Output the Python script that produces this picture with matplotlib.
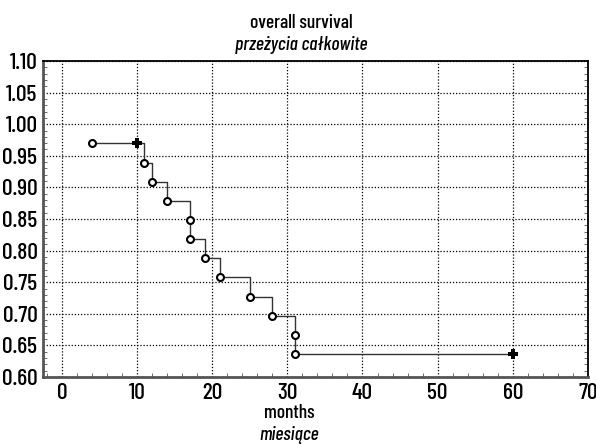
import matplotlib
matplotlib.use("Agg")
import matplotlib.pyplot as plt
from matplotlib.ticker import MultipleLocator

plt.rcParams['font.family'] = ['Barlow Condensed', 'DejaVu Sans']
plt.rcParams['font.weight'] = 'medium'

# event times (months) and survival after each event
months = [4, 11, 12, 14, 17, 17, 19, 21, 25, 28, 31, 31]
survival = [0.970, 0.939, 0.909, 0.879, 0.848, 0.818, 0.788, 0.758,
            0.727, 0.697, 0.667, 0.636]
# censored observations
cens_months = [10, 60]
cens_survival = [0.970, 0.636]

x_ticks = [0, 10, 20, 30, 40, 50, 60, 70]
y_ticks = [0.60, 0.65, 0.70, 0.75, 0.80, 0.85, 0.90, 0.95, 1.00, 1.05, 1.10]

fig = plt.figure(figsize=(5.96, 4.44), dpi=100)
ax = fig.add_axes([43 / 596, 1 - 377 / 444, 545 / 596, 316 / 444])

step_x = months + [cens_months[-1]]
step_y = survival + [survival[-1]]
ax.step(step_x, step_y, where='post', color='#333333', lw=1.0, zorder=3)
ax.plot(months, survival, 'o', ms=5, mfc='white', mec='black', mew=1.5, zorder=4)
ax.plot(cens_months, cens_survival, 'P', ms=7, color='black', mew=0, zorder=4)

ax.set_xlim(-2.5, 70)
ax.set_ylim(0.60, 1.10)
ax.set_xticks(x_ticks)
ax.set_yticks(y_ticks)
ax.set_yticklabels([f"{v:.2f}" for v in y_ticks])
ax.xaxis.set_minor_locator(MultipleLocator(2))
ax.yaxis.set_minor_locator(MultipleLocator(0.01))
ax.tick_params(which='both', direction='in', top=False, right=True, length=3,
               color='#555555', labelsize=17)
ax.tick_params(which='major', length=0, pad=4)
ax.grid(True, which='major', ls=(0, (1, 1.5)), color='black', lw=0.9)

for s in ['left', 'bottom']:
    ax.spines[s].set_color('#555555')
    ax.spines[s].set_linewidth(2)
for s in ['top', 'right']:
    ax.spines[s].set_color('black')
    ax.spines[s].set_linewidth(1.3)

fig.text(0.505, 1 - 23 / 444, "overall survival", ha='center', va='center', fontsize=14)
fig.text(0.505, 1 - 45 / 444, "przeżycia całkowite", ha='center', va='center',
         fontsize=14, style='italic')
fig.text(289 / 596, 1 - 413 / 444, "months", ha='center', va='center', fontsize=14)
fig.text(289 / 596, 1 - 435 / 444, "miesiące", ha='center', va='center',
         fontsize=14, style='italic')

fig.savefig("out.png", dpi=100)
